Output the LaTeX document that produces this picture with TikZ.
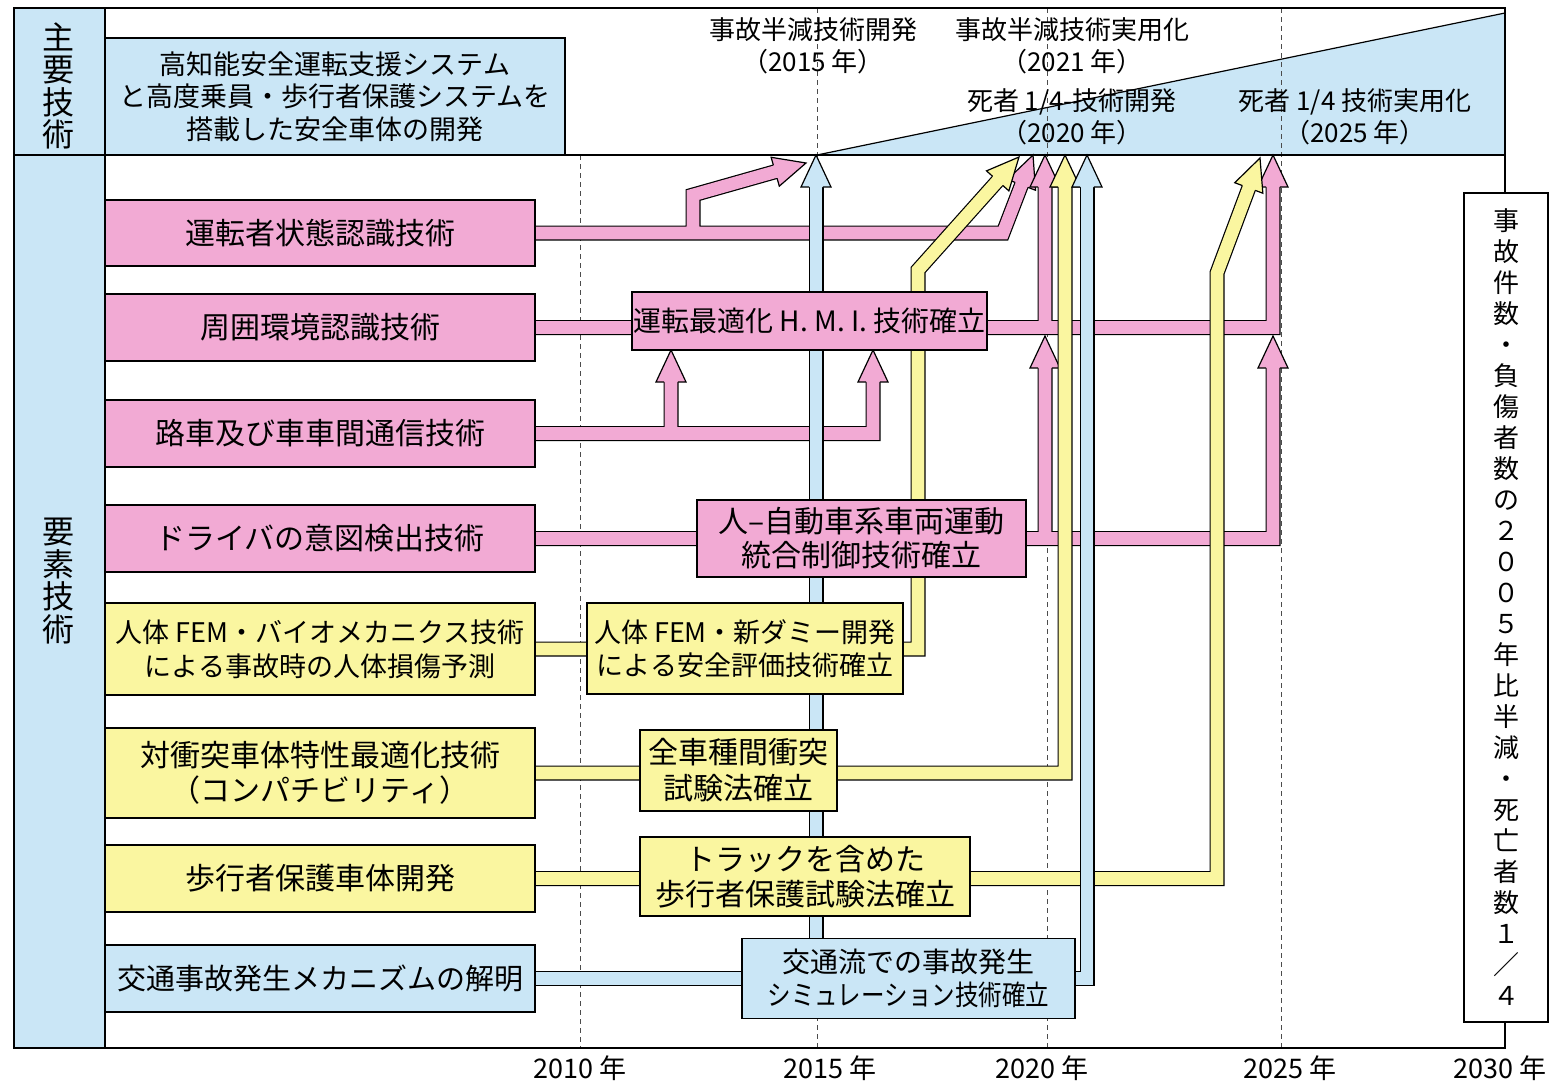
\documentclass[tikz,border=0pt]{standalone}
\usepackage{fontspec}
\setmainfont{Noto Sans CJK JP}
\usetikzlibrary{calc}
\definecolor{pk}{RGB}{242,170,212}
\definecolor{yl}{RGB}{250,246,160}
\definecolor{bl}{RGB}{202,230,246}
\pgfdeclarelayer{bg}
\pgfdeclarelayer{bands}
\pgfsetlayers{bg,bands,main}
\newcommand{\arrhead}[3]{%
  \coordinate (ht) at (#2);%
  \coordinate (hf) at (#3);%
  \coordinate (hb) at ($(ht)!32pt!(hf)$);%
  \fill[#1] (ht) -- ($(hb)!15pt!90:(ht)$) -- ($(hb)!15pt!-90:(ht)$) -- cycle;%
  \draw[line width=1.2pt, line join=miter, miter limit=10] ($(hb)!6.9pt!90:(ht)$) -- ($(hb)!15pt!90:(ht)$) -- (ht) -- ($(hb)!15pt!-90:(ht)$) -- ($(hb)!6.9pt!-90:(ht)$);%
}
\begin{document}
\begin{tikzpicture}[x=1pt,y=-1pt,
  box/.style={draw=black,line width=1.4pt,align=center,inner sep=0pt},
  pkbox/.style={box,fill=pk},
  ylbox/.style={box,fill=yl},
  blbox/.style={box,fill=bl},
  pkband/.style={draw=pk,line width=12.6pt,line join=miter,preaction={draw=black,line width=15pt,line join=miter}},
  ylband/.style={draw=yl,line width=12.6pt,line join=miter,preaction={draw=black,line width=15pt,line join=miter}},
  blband/.style={draw=bl,line width=12.6pt,line join=miter,preaction={draw=black,line width=15pt,line join=miter}},
  gridline/.style={draw=black!70,line width=1pt,dash pattern=on 5pt off 4pt},
  frame/.style={draw=black,line width=1.4pt},
  lbl/.style={align=center,inner sep=0pt},
  fL/.style={font=\fontsize{30}{34}\selectfont},
  fM/.style={font=\fontsize{28}{35}\selectfont}
]
\useasboundingbox (0,0) rectangle (1564,1085);

% ---------- nodes ----------
\node[blbox, minimum width=460, minimum height=117, font=\fontsize{27}{32.5}\selectfont] (hdr) at (335,96.5)
  {高知能安全運転支援システム\\と高度乗員・歩行者保護システムを\\搭載した安全車体の開発};
\node[lbl, font=\fontsize{32}{32.5}\selectfont] (lab1) at (58,86) {主\\要\\技\\術};
\node[lbl, font=\fontsize{32}{32.5}\selectfont] (lab2) at (58,581) {要\\素\\技\\術};

\node[pkbox, fL, minimum width=430, minimum height=66] (b1) at (320,233) {運転者状態認識技術};
\node[pkbox, fL, minimum width=430, minimum height=67] (b2) at (320,327.5) {周囲環境認識技術};
\node[pkbox, fL, minimum width=430, minimum height=67] (b3) at (320,433.5) {路車及び車車間通信技術};
\node[pkbox, fL, minimum width=430, minimum height=67] (b4) at (320,538.5) {ドライバの意図検出技術};
\node[ylbox, font=\fontsize{27}{34}\selectfont, minimum width=430, minimum height=92] (b5) at (320,649)
  {人体 FEM・バイオメカニクス技術\\による事故時の人体損傷予測};
\node[ylbox, font=\fontsize{30}{35}\selectfont, minimum width=430, minimum height=90] (b6) at (320,773)
  {対衝突車体特性最適化技術\\（コンパチビリティ）};
\node[ylbox, fL, minimum width=430, minimum height=67] (b7) at (320,878.5) {歩行者保護車体開発};
\node[blbox, font=\fontsize{29}{34}\selectfont, minimum width=430, minimum height=67] (b8) at (320,978.5) {交通事故発生メカニズムの解明};

\node[pkbox, font=\fontsize{28}{34}\selectfont, minimum width=355, minimum height=58] (hmi) at (809.5,321) {運転最適化 H. M. I. 技術確立};
\node[pkbox, font=\fontsize{30}{34}\selectfont, minimum width=329, minimum height=77] (hm) at (861.5,538.5)
  {人–自動車系車両運動\\統合制御技術確立};
\node[ylbox, font=\fontsize{27}{33}\selectfont, minimum width=316, minimum height=91] (fem) at (745,648.5)
  {人体 FEM・新ダミー開発\\による安全評価技術確立};
\node[ylbox, font=\fontsize{30}{36}\selectfont, minimum width=197, minimum height=81] (zen) at (738.5,770.5)
  {全車種間衝突\\試験法確立};
\node[ylbox, font=\fontsize{30}{35}\selectfont, minimum width=330, minimum height=79] (tra) at (805,876.5)
  {トラックを含めた\\歩行者保護試験法確立};
\node[blbox, font=\fontsize{28}{33}\selectfont, minimum width=333, minimum height=80] (kot) at (908.5,978.5)
  {交通流での事故発生\\\scalebox{0.84}[1]{シミュレーション技術確立}};

\node[box, fill=white, minimum width=84, minimum height=829, font=\fontsize{26}{31}\selectfont] (goal) at (1506,607.5)
  {事\\故\\件\\数\\・\\負\\傷\\者\\数\\の\\２\\０\\０\\５\\年\\比\\半\\減\\・\\死\\亡\\者\\数\\１\\／\\４};

\node[lbl, font=\fontsize{26}{32}\selectfont] (m1) at (813,46) {事故半減技術開発\\（2015 年）};
\node[lbl, font=\fontsize{26}{32}\selectfont] (m2) at (1072,46) {事故半減技術実用化\\（2021 年）};
\node[lbl, font=\fontsize{26}{32}\selectfont] (m3) at (1072,117) {死者 1/4-技術開発\\（2020 年）};
\node[lbl, font=\fontsize{26}{32}\selectfont] (m4) at (1355,117) {死者 1/4 技術実用化\\（2025 年）};

\node[lbl, font=\fontsize{27}{27}\selectfont] (y10) at (580,1068) {2010 年};
\node[lbl, font=\fontsize{27}{27}\selectfont] (y15) at (830,1068) {2015 年};
\node[lbl, font=\fontsize{27}{27}\selectfont] (y20) at (1042,1068) {2020 年};
\node[lbl, font=\fontsize{27}{27}\selectfont] (y25) at (1290,1068) {2025 年};
\node[lbl, font=\fontsize{27}{27}\selectfont] (y30) at (1500,1068) {2030 年};

% ---------- background ----------
\begin{pgfonlayer}{bg}
  \fill[bl] (14,8) rectangle (105,1048);
  \fill[bl] (817,155) -- (1505,13) -- (1505,155) -- cycle;
  \draw[gridline] (580,155) -- (580,1048);
  \draw[gridline] (817,8) -- (817,1048);
  \draw[gridline] (1047,8) -- (1047,1048);
  \draw[gridline] (1281,8) -- (1281,1048);
  \draw[frame] (14,8) rectangle (1505,1048);
  \draw[frame] (105,8) -- (105,1048);
  \draw[frame] (14,155) -- (1505,155);
  \draw[line width=1.2pt] (817,155) -- (1505,13);
\end{pgfonlayer}

% ---------- bands ----------
\begin{pgfonlayer}{bands}
  \coordinate (t1) at (1033,155); \coordinate (f1) at (1003,233);
  \coordinate (t1b) at (806,163); \coordinate (f1b) at (693,195);
  \draw[pkband] (b1.east) -- (f1) -- ($(t1)!31pt!(f1)$)
    (693,233) -- (f1b) -- ($(t1b)!31pt!(f1b)$)
    (b2.east) -- (1273,327.5) -- (1273,186)
    (1045,327.5) -- (1045,186)
    (b3.east) -- (873,433.5) -- (873,381)
    (671,433.5) -- (671,381)
    (b4.east) -- (1273,538.5) -- (1273,367)
    (1045,538.5) -- (1045,367);
  \arrhead{pk}{1033,155}{1003,233}
  \arrhead{pk}{806,163}{693,195}
  \arrhead{pk}{1045,155}{1045,300}
  \arrhead{pk}{1273,155}{1273,300}
  \arrhead{pk}{671,350}{671,430}
  \arrhead{pk}{873,350}{873,430}
  \arrhead{pk}{1045,336}{1045,500}
  \arrhead{pk}{1273,336}{1273,500}

  \coordinate (t5) at (1019,157); \coordinate (f5) at (918,270);
  \coordinate (t7) at (1260,158); \coordinate (f7) at (1217,273);
  \draw[ylband] (b5.east) -- (918,649) -- (f5) -- ($(t5)!31pt!(f5)$)
    (b6.east) -- (1065,773) -- (1065,186)
    (b7.east) -- (1217,878.5) -- (f7) -- ($(t7)!31pt!(f7)$);
  \arrhead{yl}{1019,157}{918,270}
  \arrhead{yl}{1065,155}{1065,300}
  \arrhead{yl}{1260,158}{1217,273}

  \draw[blband] (b8.east) -- (kot.west)
    (816,970) -- (816,186)
    (kot.east) -- (1087,978.5) -- (1087,186);
  \arrhead{bl}{816,155}{816,300}
  \arrhead{bl}{1087,155}{1087,300}
\end{pgfonlayer}
\end{tikzpicture}
\end{document}
